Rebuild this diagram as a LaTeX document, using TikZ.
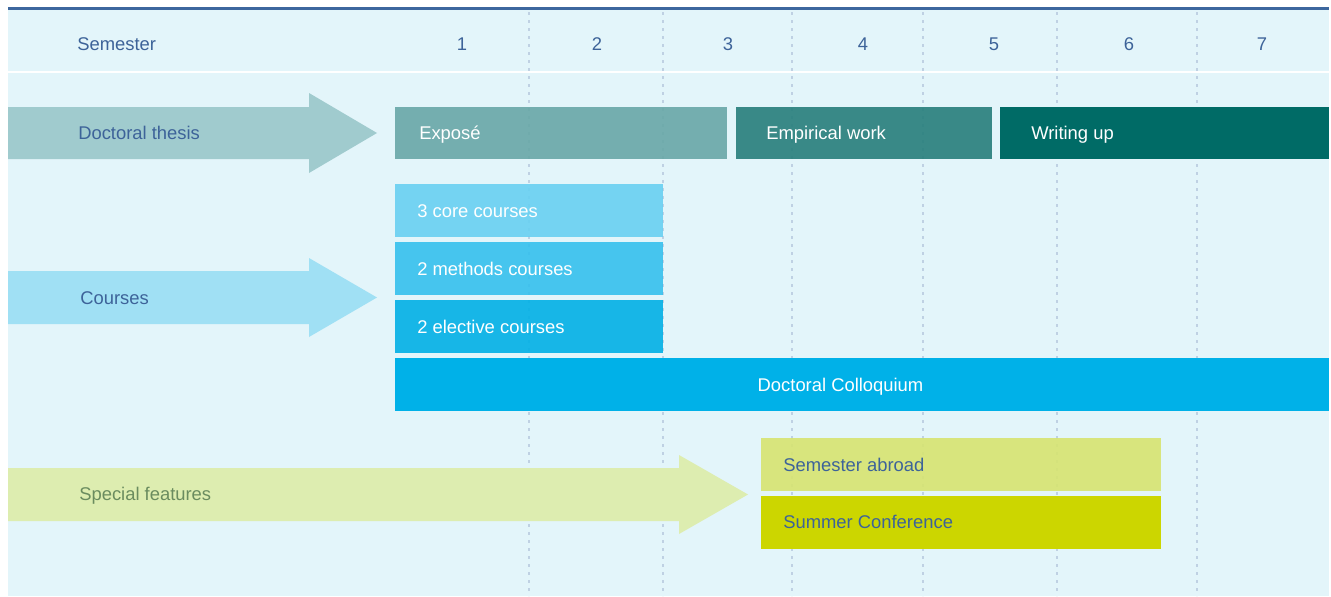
\documentclass[tikz,border=0pt]{standalone}
\usepackage{fontspec}
\setmainfont{Liberation Sans}
\definecolor{bgc}{HTML}{E3F5FA}
\definecolor{topc}{HTML}{3D679E}
\definecolor{dotc}{HTML}{BFD1E3}
\definecolor{hdrc}{HTML}{3D6399}
\definecolor{thesisarr}{HTML}{A0CBCE}
\definecolor{exposec}{HTML}{68A7A7}
\definecolor{empc}{HTML}{277E7B}
\definecolor{writec}{HTML}{006B66}
\definecolor{coursearr}{HTML}{A0E0F4}
\definecolor{corec}{HTML}{68D0F2}
\definecolor{methc}{HTML}{35C0ED}
\definecolor{electc}{HTML}{01B0E6}
\definecolor{collc}{HTML}{00B1E8}
\definecolor{specarr}{HTML}{DDEDB0}
\definecolor{spectext}{HTML}{6A8C5F}
\definecolor{abroadc}{HTML}{D7E470}
\definecolor{summerc}{HTML}{CCD600}
\begin{document}
\begin{tikzpicture}[x=0.75pt,y=-0.75pt,
  lbl/.style={font=\fontsize{13.8}{16}\selectfont, inner sep=0pt, text height=9.9pt, text depth=0pt},
  hdr/.style={lbl, text=hdrc},
  onbar/.style={lbl, text=white, anchor=west},
  onyel/.style={lbl, text=hdrc, anchor=west},
  dotline/.style={draw=dotc, line width=1.8pt, dash pattern=on 1.9pt off 4.1pt},
  lightbar/.style={fill opacity=0.9},
]
\useasboundingbox (0,0) rectangle (1331,596);
% background
\fill[bgc] (8,10) rectangle (1329,596);
\fill[topc] (8,7) rectangle (1329,10);
\fill[white] (8,70.5) rectangle (1329,73);
% dotted semester dividers
\foreach \x in {529,663,792,923,1057,1197}
  \draw[dotline] (\x,12) -- (\x,596);
% header
\node[hdr, anchor=west] (semester) at (77,44) {Semester};
\foreach \x/\n in {462/1,597/2,728/3,863/4,994/5,1129/6,1262/7}
  \node[hdr, anchor=center] (s\n) at (\x,44) {\n};
% arrows
\fill[thesisarr] (8,107) -- (309,107) -- (309,93) -- (377,133) -- (309,173) -- (309,159) -- (8,159) -- cycle;
\fill[coursearr] (8,271) -- (309,271) -- (309,258) -- (377,297.5) -- (309,337) -- (309,324) -- (8,324) -- cycle;
\fill[specarr] (8,468) -- (679,468) -- (679,455) -- (748,494.5) -- (679,534) -- (679,521) -- (8,521) -- cycle;
\node[hdr, anchor=west] (thesis) at (78,133) {Doctoral thesis};
\node[hdr, anchor=west] (courses) at (80,297.5) {Courses};
\node[lbl, text=spectext, anchor=west] (special) at (79,494) {Special features};
% doctoral thesis bars
\fill[exposec, lightbar] (395,107) rectangle (727,159);
\fill[empc, lightbar] (736,107) rectangle (992,159);
\fill[writec] (1000,107) rectangle (1329,159);
\node[onbar] (expose) at (419,133) {Exposé};
\node[onbar] (empirical) at (766,133) {Empirical work};
\node[onbar] (writing) at (1031,133) {Writing up};
% course bars
\fill[corec, lightbar] (395,184) rectangle (663,237);
\fill[methc, lightbar] (395,242) rectangle (663,295);
\fill[electc, lightbar] (395,300) rectangle (663,353);
\fill[collc] (395,358) rectangle (1329,411);
\node[onbar] (core) at (417,211) {3 core courses};
\node[onbar] (methods) at (417,268.5) {2 methods courses};
\node[onbar] (elective) at (417,327) {2 elective courses};
\node[lbl, text=white, anchor=center] (colloquium) at (840.5,384.5) {Doctoral Colloquium};
% special features bars
\fill[abroadc, lightbar] (761,438) rectangle (1161,491);
\fill[summerc] (761,496) rectangle (1161,549);
\node[onyel] (abroad) at (783,464.5) {Semester abroad};
\node[onyel] (summer) at (783,522) {Summer Conference};
\end{tikzpicture}
\end{document}
